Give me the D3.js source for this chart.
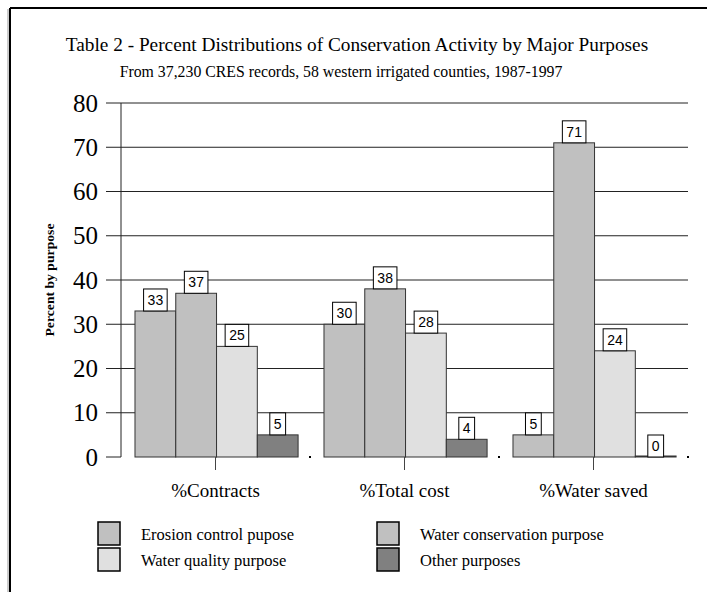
<!DOCTYPE html>
<html>
<head>
<meta charset="utf-8">
<script src="https://cdn.jsdelivr.net/npm/d3@7/dist/d3.min.js"></script>
<style>
  html, body { margin: 0; padding: 0; background: #fff; }
  svg { display: block; }
</style>
</head>
<body>
<svg id="chart" width="707" height="592"></svg>
<script>
// ---- data ----
const categories = ["%Contracts", "%Total cost", "%Water saved"];
const seriesNames = ["Erosion control pupose", "Water conservation purpose", "Water quality purpose", "Other purposes"];
const erosionValues = [33, 30, 5];
const conservationValues = [37, 38, 71];
const qualityValues = [25, 28, 24];
const otherValues = [5, 4, 0];
const yTickValues = [0, 10, 20, 30, 40, 50, 60, 70, 80];
const titleText = "Table 2 - Percent Distributions of Conservation Activity by Major Purposes";
const subtitleText = "From 37,230 CRES records, 58 western irrigated counties, 1987-1997";
const yAxisTitle = "Percent by purpose";

// ---- styles ----
const colors = ["#c0c0c0", "#c0c0c0", "#e0e0e0", "#808080"];
const serif = "'Liberation Serif', 'Times New Roman', serif";
const sans = "'Liberation Sans', Arial, sans-serif";

const seriesValues = [erosionValues, conservationValues, qualityValues, otherValues];
const table = [];
categories.forEach((c, ci) => {
  seriesNames.forEach((s, si) => table.push({ cat: c, series: s, si, value: seriesValues[si][ci] }));
});

const svg = d3.select("#chart");

// frame
svg.append("line").attr("x1", 10).attr("x2", 707).attr("y1", 8).attr("y2", 8)
  .attr("stroke", "#000").attr("stroke-width", 2);
svg.append("line").attr("x1", 10).attr("x2", 10).attr("y1", 8).attr("y2", 592)
  .attr("stroke", "#000").attr("stroke-width", 2);
svg.append("line").attr("x1", 8).attr("x2", 8).attr("y1", 9).attr("y2", 592)
  .attr("stroke", "#999").attr("stroke-width", 1);

const plot = { left: 121, right: 688, top: 103, bottom: 457 };

const x0 = d3.scaleBand().domain(categories).range([plot.left, plot.right]).padding(0);
const bw = x0.bandwidth();
const x1 = d3.scaleBand().domain(seriesNames).range([bw * 0.074, bw * 0.937]).padding(0);
const y = d3.scaleLinear().domain([0, 80]).range([plot.bottom, plot.top]);

// titles
svg.append("text").attr("x", 357).attr("y", 51).attr("text-anchor", "middle")
  .attr("font-family", serif).attr("font-size", 19.3).text(titleText);
svg.append("text").attr("x", 341).attr("y", 77).attr("text-anchor", "middle")
  .attr("font-family", serif).attr("font-size", 15.8).text(subtitleText);

// gridlines + ticks
const grid = svg.append("g");
grid.selectAll("line").data(yTickValues).join("line")
  .attr("x1", plot.left - 15)
  .attr("x2", d => d === 0 ? plot.left : plot.right)
  .attr("y1", d => y(d)).attr("y2", d => y(d))
  .attr("stroke", "#222").attr("stroke-width", 1);
grid.selectAll("text").data(yTickValues).join("text")
  .attr("x", plot.left - 23).attr("y", d => y(d)).attr("dy", "0.34em")
  .attr("text-anchor", "end").attr("font-family", serif).attr("font-size", 25)
  .text(d => d);

// y axis line
svg.append("line").attr("x1", plot.left).attr("x2", plot.left)
  .attr("y1", plot.top).attr("y2", plot.bottom).attr("stroke", "#222");

// y axis title
svg.append("text")
  .attr("transform", `translate(54,${(plot.top + plot.bottom) / 2}) rotate(-90)`)
  .attr("text-anchor", "middle").attr("font-family", serif).attr("font-weight", "bold")
  .attr("font-size", 13).attr("textLength", 113).attr("lengthAdjust", "spacingAndGlyphs")
  .text(yAxisTitle);

// bars
const bars = svg.append("g");
bars.selectAll("rect").data(table).join("rect")
  .attr("x", d => x0(d.cat) + x1(d.series))
  .attr("width", x1.bandwidth())
  .attr("y", d => Math.min(y(d.value), y(0) - 1))
  .attr("height", d => Math.max(y(0) - y(d.value), 1))
  .attr("fill", d => colors[d.si])
  .attr("stroke", "#333").attr("stroke-width", 1);

// category ticks and boundary marks
svg.append("g").selectAll("line").data(categories).join("line")
  .attr("x1", d => x0(d) + bw / 2).attr("x2", d => x0(d) + bw / 2)
  .attr("y1", plot.bottom).attr("y2", plot.bottom + 13)
  .attr("stroke", "#444");
svg.append("g").selectAll("rect").data(categories).join("rect")
  .attr("x", d => x0(d) + bw - 1).attr("y", plot.bottom - 1)
  .attr("width", 2).attr("height", 2).attr("fill", "#000");

// value labels
const labels = svg.append("g");
const lg = labels.selectAll("g").data(table).join("g")
  .attr("transform", d => `translate(${x0(d.cat) + x1(d.series) + x1.bandwidth() / 2},${y(d.value)})`);
lg.append("text").attr("y", -11).attr("dy", "0.36em").attr("text-anchor", "middle")
  .attr("font-family", sans).attr("font-size", 14).text(d => d.value);
lg.each(function () {
  const g = d3.select(this);
  const t = g.select("text");
  const w = t.node().getComputedTextLength() + 8;
  g.insert("rect", "text").attr("x", -w / 2).attr("y", -22).attr("width", w).attr("height", 22)
    .attr("fill", "#fff").attr("stroke", "#000").attr("stroke-width", 1);
});

// category labels
svg.append("g").selectAll("text").data(categories).join("text")
  .attr("x", d => x0(d) + bw / 2).attr("y", 497).attr("text-anchor", "middle")
  .attr("font-family", serif).attr("font-size", 19).text(d => d);

// legend
const legendPos = [
  { x: 98, y: 522 }, { x: 377, y: 522 }, { x: 98, y: 548 }, { x: 377, y: 548 }
];
const leg = svg.append("g").selectAll("g").data(seriesNames).join("g")
  .attr("transform", (d, i) => `translate(${legendPos[i].x},${legendPos[i].y})`);
leg.append("rect").attr("width", 22).attr("height", 23)
  .attr("fill", (d, i) => colors[i]).attr("stroke", "#000").attr("stroke-width", 1.5);
leg.append("text").attr("x", 43).attr("y", 12).attr("dy", "0.34em")
  .attr("font-family", serif).attr("font-size", 16.5).text(d => d);
</script>
</body>
</html>
